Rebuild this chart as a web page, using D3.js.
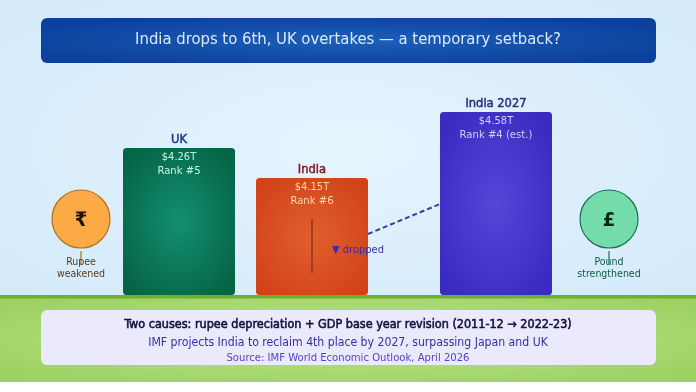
<!DOCTYPE html>
<html><head><meta charset="utf-8">
<script src="https://cdn.jsdelivr.net/npm/d3@7"></script>
<style>html,body{margin:0;padding:0;background:#fff}svg{display:block;filter:blur(.5px)}text{font-family:"DejaVu Sans Condensed","DejaVu Sans",sans-serif;text-anchor:middle}</style>
</head><body><svg id="c" width="696" height="392"></svg>
<script>
const categories=["UK","India","India 2027"];
const values=[4.26,4.15,4.58];
const valueLabels=["$4.26T","$4.15T","$4.58T"];
const rankLabels=["Rank #5","Rank #6","Rank #4 (est.)"];
const titleText="India drops to 6th, UK overtakes — a temporary setback?";
const footLines=["Two causes: rupee depreciation + GDP base year revision (2011-12 → 2022-23)","IMF projects India to reclaim 4th place by 2027, surpassing Japan and UK","Source: IMF World Economic Outlook, April 2026"];
const currencySymbols=["₹","£"];
const currencyLabels=[["Rupee","weakened"],["Pound","strengthened"]];

const barInner=["#12906f","#e0602f","#5546d8"], barOuter=["#066547","#d2431a","#3c2bc0"];
const labelCol=["#1e3a8a","#7f1d1d","#312e81"], valCol=["#c7f3df","#fed7aa","#c7d2fe"];
const W=696,svg=d3.select("#c"),defs=svg.append("defs");
function grad(id,stops,r){const g=defs.append("radialGradient").attr("id",id).attr("cx","50%").attr("cy","50%").attr("r",r||"60%");
 stops.forEach((c,i)=>g.append("stop").attr("offset",i/(stops.length-1)).attr("stop-color",c));}
grad("sky",["#e6f4fd","#d2e9fb"],"75%");
grad("ground",["#bce388","#9dd162"],"65%");
grad("title",["#1d5fba","#0b409c"],"60%");
categories.forEach((c,i)=>grad("b"+i,[barInner[i],barOuter[i]]));

const baseY=295;
const x=d3.scaleOrdinal().domain(categories).range([123,256,440]);
const barW=112;
const y=d3.scaleLinear().domain([4.15,4.26,4.58]).range([178,148,112]);

svg.append("rect").attr("width",W).attr("height",296).attr("fill","url(#sky)");
svg.append("rect").attr("y",295).attr("width",W).attr("height",87).attr("fill","url(#ground)");
svg.append("rect").attr("y",295).attr("width",W).attr("height",3.5).attr("fill","#6fae32");

svg.append("rect").attr("x",41).attr("y",18).attr("width",615).attr("height",45).attr("rx",6).attr("fill","url(#title)");
svg.append("text").attr("x",348).attr("y",44).attr("fill","#dbeafe").attr("font-size",16.5).text(titleText);

const g=svg.selectAll(".bar").data(categories).join("g");
g.append("rect").attr("x",d=>x(d)).attr("y",(d,i)=>y(values[i])).attr("width",barW).attr("height",(d,i)=>baseY-y(values[i])).attr("rx",3.5).attr("fill",(d,i)=>`url(#b${i})`);
g.append("text").attr("x",d=>x(d)+barW/2).attr("y",(d,i)=>y(values[i])-5).attr("font-size",12.8).attr("fill",(d,i)=>labelCol[i]).attr("stroke",(d,i)=>labelCol[i]).attr("stroke-width",.5).text(d=>d);
g.append("text").attr("x",d=>x(d)+barW/2).attr("y",(d,i)=>y(values[i])+12).attr("font-size",11).attr("fill",(d,i)=>valCol[i]).text((d,i)=>valueLabels[i]);
g.append("text").attr("x",d=>x(d)+barW/2).attr("y",(d,i)=>y(values[i])+26).attr("font-size",11.2).attr("fill",(d,i)=>valCol[i]).text((d,i)=>rankLabels[i]);

const iCx=x("India")+barW/2;
svg.append("line").attr("x1",iCx).attr("x2",iCx).attr("y1",219).attr("y2",273).attr("stroke","#92351a").attr("stroke-width",1.5);
svg.append("line").attr("x1",x("India")+barW).attr("x2",x("India 2027")).attr("y1",234).attr("y2",204).attr("stroke","#3f3a9e").attr("stroke-width",2).attr("stroke-dasharray","5 3");
svg.append("text").attr("x",358).attr("y",253).attr("font-size",11).attr("fill","#3730a3").text("▼ dropped");

const cx=[81,609],fills=["#fbaa45","#74dbab"],strokes=["#b4711c","#1f6f55"],ink=["#1f1208","#06281c"],txtc=["#5b3a1a","#0f5a44"];
currencySymbols.forEach((s,i)=>{
 svg.append("circle").attr("cx",cx[i]).attr("cy",219).attr("r",29).attr("fill",fills[i]).attr("stroke",strokes[i]).attr("stroke-width",1.2);
 svg.append("text").attr("x",cx[i]).attr("y",226).attr("font-size",20).attr("font-weight",700).attr("fill",ink[i]).text(s);
 svg.append("line").attr("x1",cx[i]).attr("x2",cx[i]).attr("y1",251).attr("y2",264).attr("stroke",strokes[i]).attr("stroke-width",1.2);
 currencyLabels[i].forEach((t,j)=>svg.append("text").attr("x",cx[i]).attr("y",265+j*12).attr("font-size",10.5).attr("fill",txtc[i]).text(t));
});

svg.append("rect").attr("x",41).attr("y",310).attr("width",615).attr("height",55).attr("rx",6).attr("fill","#ebe9fc");
const fy=[328,346,361],fs=[12.5,12.15,11.2],fc=["#14113f","#3730a3","#4f46c8"],sw=[.55,0,0];
footLines.forEach((t,i)=>svg.append("text").attr("x",348).attr("y",fy[i]).attr("font-size",fs[i]).attr("fill",fc[i]).attr("stroke",sw[i]?fc[i]:"none").attr("stroke-width",sw[i]).text(t));
</script></body></html>
